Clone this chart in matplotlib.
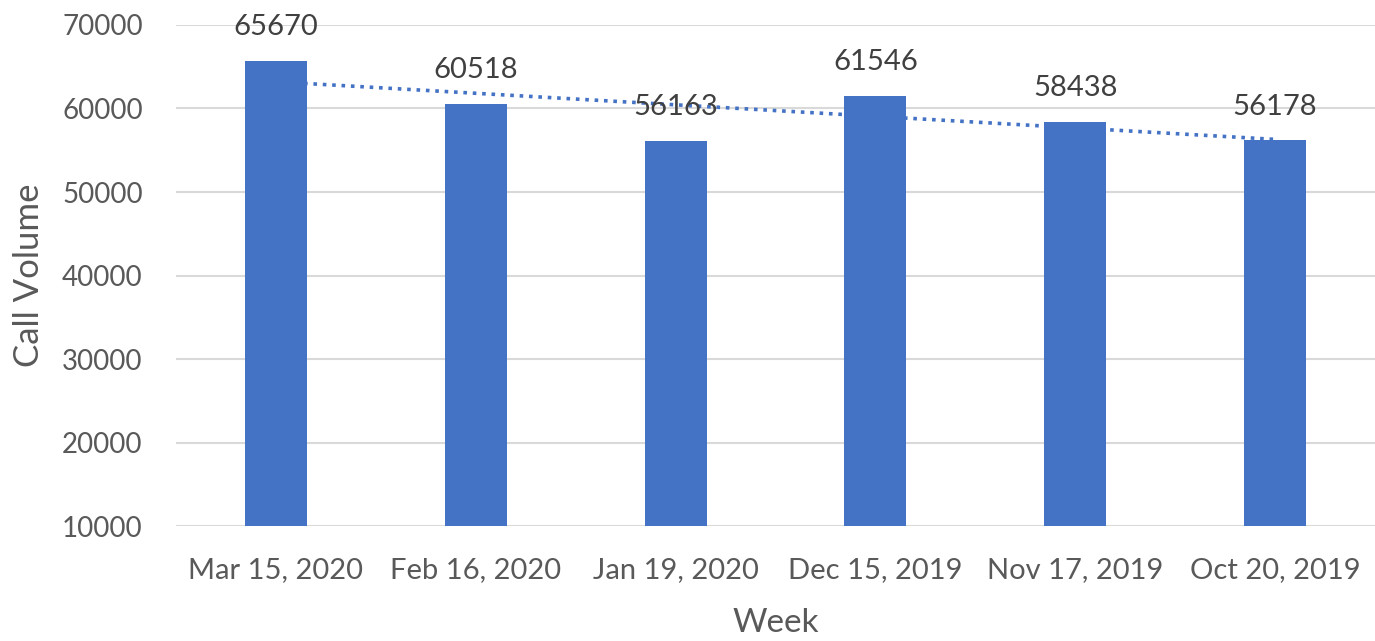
import numpy as np
import matplotlib.pyplot as plt

weeks = ["Mar 15, 2020", "Feb 16, 2020", "Jan 19, 2020",
         "Dec 15, 2019", "Nov 17, 2019", "Oct 20, 2019"]
calls = [65670, 60518, 56163, 61546, 58438, 56178]
y_ticks = [10000, 20000, 30000, 40000, 50000, 60000, 70000]

bar_color = "#4472C4"
text_color = "#595959"

plt.rcParams['font.family'] = ['Lato', 'DejaVu Sans']

fig = plt.figure(figsize=(13.75, 6.41), dpi=100)
ax = fig.add_axes([0.128, 0.1794, 0.872, 0.7816])

x = np.arange(len(weeks))
ax.bar(x, calls, width=0.31, color=bar_color, zorder=3)

# linear trendline (behind the bars)
coef = np.polyfit(x, calls, 1)
ax.plot(x, np.polyval(coef, x), linestyle=(0, (1, 1.6)), color=bar_color,
        linewidth=2.6, zorder=2)

for xi, v in zip(x, calls):
    ax.annotate(str(v), (xi, v), xytext=(0, 15), textcoords="offset points",
                ha="center", va="bottom", fontsize=21, color="#404040", zorder=4)

ax.set_ylim(10000, 70000)
ax.set_xlim(-0.5, len(weeks) - 0.5)
ax.set_yticks(y_ticks)
ax.set_xticks(x)
ax.set_xticklabels(weeks)
ax.yaxis.grid(True, color="#D9D9D9", linewidth=1.5, zorder=0)
ax.set_axisbelow(True)
for s in ax.spines.values():
    s.set_visible(False)
ax.tick_params(axis="y", length=0, labelsize=20, labelcolor=text_color, pad=24)
ax.tick_params(axis="x", length=0, labelsize=21, labelcolor=text_color, pad=22)

ax.set_ylabel("Call Volume", fontsize=25, color=text_color, labelpad=12)
ax.set_xlabel("Week", fontsize=24, color=text_color, labelpad=18)

plt.savefig("out.png", dpi=100)
